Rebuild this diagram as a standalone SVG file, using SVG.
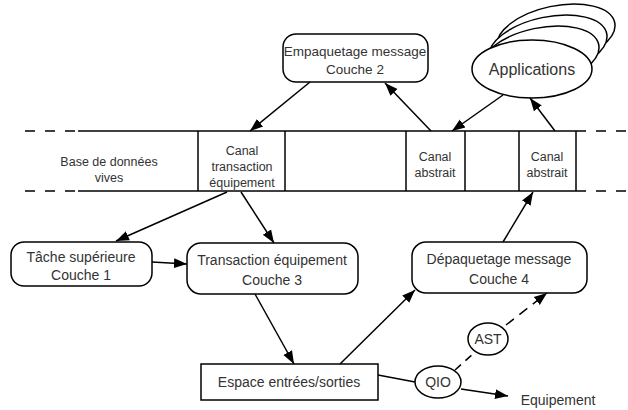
<svg xmlns="http://www.w3.org/2000/svg" width="628" height="410" viewBox="0 0 628 410">
<defs>
<marker id="ah" viewBox="0 0 10 10" refX="10" refY="5" markerWidth="13" markerHeight="13" markerUnits="userSpaceOnUse" orient="auto">
<path d="M0,1.2 L10,5 L0,8.8 Z" fill="#000"/>
</marker>
<style>
.t{font-family:"Liberation Sans",Arial,sans-serif;font-size:14px;fill:#333;text-anchor:middle}
.s{font-family:"Liberation Sans",Arial,sans-serif;font-size:12.5px;fill:#333;text-anchor:middle}
.b{fill:#fff;stroke:#000;stroke-width:1.5}
.l{fill:none;stroke:#000;stroke-width:1.5}
.c{fill:none;stroke:#000;stroke-width:1.5;marker-end:url(#ah)}
.d{stroke-dasharray:10 10}
</style>
</defs>
<rect width="628" height="410" fill="#fff"/>

<g id="strip">
<line class="l d" x1="25" y1="131" x2="78" y2="131"/>
<line class="l d" x1="25" y1="191" x2="78" y2="191"/>
<line class="l" x1="78" y1="131" x2="576" y2="131"/>
<line class="l" x1="78" y1="191" x2="576" y2="191"/>
<line class="l d" x1="576" y1="131" x2="628" y2="131" stroke-dasharray="11 10"/>
<line class="l d" x1="576" y1="191" x2="628" y2="191" stroke-dasharray="11 10"/>
<line class="l" x1="198" y1="131" x2="198" y2="191"/>
<line class="l" x1="285" y1="131" x2="285" y2="191"/>
<line class="l" x1="406" y1="131" x2="406" y2="191"/>
<line class="l" x1="465" y1="131" x2="465" y2="191"/>
<line class="l" x1="519" y1="131" x2="519" y2="191"/>
<line class="l" x1="576" y1="131" x2="576" y2="191"/>
</g>
<g id="base">
<text class="s" x="109" y="166">Base de données</text>
<text class="s" x="109" y="182">vives</text>
</g>
<g id="canal-transaction">
<text class="s" x="242" y="155">Canal</text>
<text class="s" x="242" y="171">transaction</text>
<text class="s" x="242" y="187">équipement</text>
</g>
<g id="canal-abstrait-1">
<text class="s" x="435" y="161">Canal</text>
<text class="s" x="435" y="177">abstrait</text>
</g>
<g id="canal-abstrait-2">
<text class="s" x="547" y="161">Canal</text>
<text class="s" x="547" y="177">abstrait</text>
</g>

<g id="empaquetage">
<rect class="b" x="283" y="34" width="145" height="48" rx="13"/>
<text class="t" x="355" y="56" style="font-size:13.5px">Empaquetage message</text>
<text class="t" x="355" y="74" style="font-size:13.5px">Couche 2</text>
</g>

<g id="applications">
<ellipse class="b" cx="556" cy="35" rx="60" ry="29" transform="rotate(-12 556 35)"/>
<ellipse class="b" cx="548" cy="46" rx="60" ry="29" transform="rotate(-12 548 46)"/>
<ellipse class="b" cx="540" cy="57" rx="60" ry="29" transform="rotate(-12 540 57)"/>
<ellipse class="b" cx="532" cy="69" rx="60" ry="29"/>
<text class="t" x="532" y="75" style="font-size:16px">Applications</text>
</g>

<g id="tache">
<rect class="b" x="11" y="242" width="141" height="44" rx="13"/>
<text class="t" x="81" y="262">Tâche supérieure</text>
<text class="t" x="81" y="280">Couche 1</text>
</g>

<g id="transaction">
<rect class="b" x="187" y="243" width="171" height="51" rx="14"/>
<text class="t" x="272" y="265">Transaction équipement</text>
<text class="t" x="272" y="285">Couche 3</text>
</g>

<g id="depaquetage">
<rect class="b" x="412" y="242" width="175" height="51" rx="14"/>
<text class="t" x="499" y="264">Dépaquetage message</text>
<text class="t" x="499" y="284">Couche 4</text>
</g>

<g id="espace">
<rect class="b" x="201" y="364" width="177" height="36"/>
<text class="t" x="289" y="387">Espace entrées/sorties</text>
</g>

<g id="qio">
<ellipse class="b" cx="438" cy="382" rx="23" ry="16"/>
<text class="t" x="438" y="387">QIO</text>
</g>

<g id="ast">
<ellipse class="b" cx="488" cy="339" rx="20" ry="16"/>
<text class="t" x="488" y="344">AST</text>
</g>

<g id="equipement">
<text class="t" x="558" y="405">Equipement</text>
</g>

<g id="connectors">
<line class="c" x1="310" y1="82" x2="250" y2="131"/>
<line class="c" x1="431" y1="131" x2="385" y2="83"/>
<line class="c" x1="503" y1="95" x2="452" y2="131"/>
<line class="c" x1="555" y1="131" x2="530" y2="98"/>
<line class="c" x1="227" y1="192" x2="116" y2="241"/>
<line class="c" x1="241" y1="192" x2="274" y2="243"/>
<line class="c" x1="152" y1="262" x2="187" y2="264"/>
<line class="c" x1="255" y1="294" x2="294" y2="364"/>
<line class="c" x1="340" y1="364" x2="415" y2="290"/>
<line class="c" x1="503" y1="242" x2="533" y2="192"/>
<line class="l" x1="378" y1="375" x2="415" y2="382"/>
<line class="c" x1="461" y1="389" x2="508" y2="396"/>
<line class="l" x1="455" y1="370" x2="474" y2="353" stroke-dasharray="8 6"/>
<line class="c" x1="506" y1="325" x2="547" y2="293" stroke-dasharray="10 7"/>
</g>
</svg>
